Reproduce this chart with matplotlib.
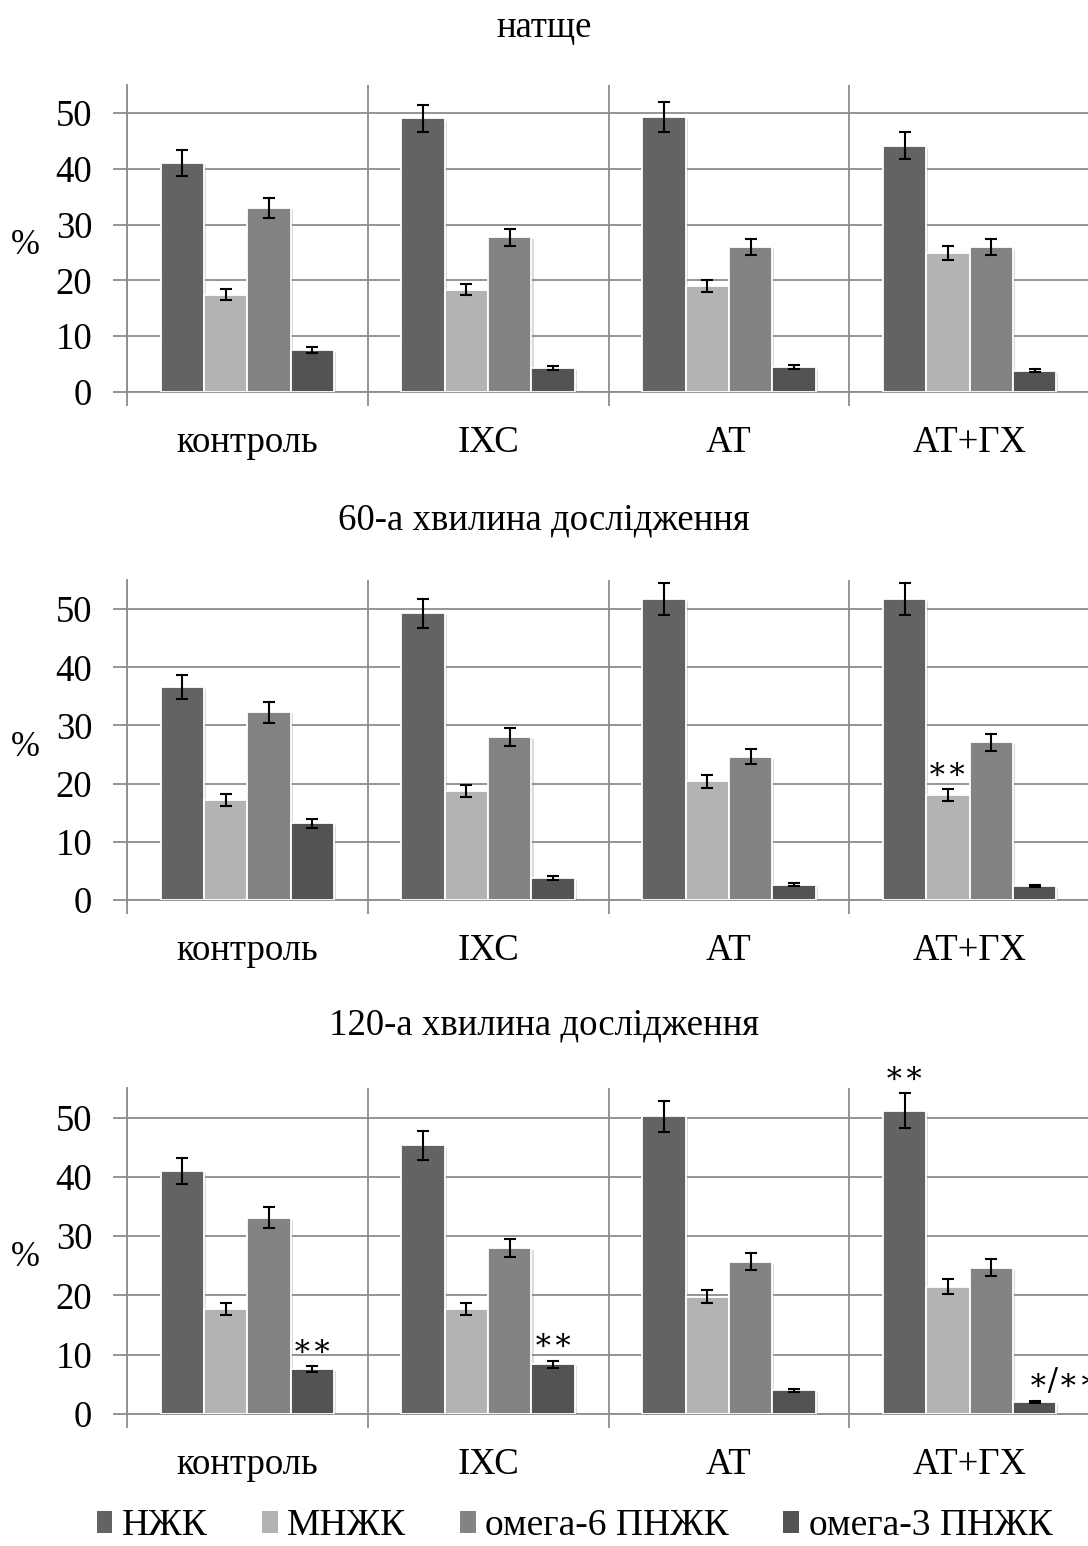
import numpy as np
import matplotlib
matplotlib.use('Agg')
import matplotlib.pyplot as plt
import matplotlib.patheffects as pe
from matplotlib.patches import Patch

plt.rcParams['font.family'] = ['Liberation Serif', 'DejaVu Serif']

groups = ['контроль', 'ІХС', 'АТ', 'АТ+ГХ']
series = ['НЖК', 'МНЖК', 'омега-6 ПНЖК', 'омега-3 ПНЖК']
colors = ['#636363', '#b3b3b3', '#838383', '#535353']
titles = ['натще', '60-а хвилина дослідження', '120-а хвилина дослідження']

# values per series (rows) for each group (columns)
fasting = [[41.0, 49.0, 49.3, 44.1],
           [17.4, 18.3, 19.0, 24.9],
           [33.0, 27.7, 26.0, 26.0],
           [7.5, 4.3, 4.5, 3.8]]
fasting_err = [[2.3, 2.5, 2.7, 2.4],
               [1.0, 1.0, 1.1, 1.3],
               [1.8, 1.5, 1.5, 1.4],
               [0.5, 0.4, 0.35, 0.3]]

min60 = [[36.6, 49.3, 51.7, 51.7],
         [17.2, 18.7, 20.4, 18.0],
         [32.3, 28.0, 24.6, 27.1],
         [13.2, 3.8, 2.6, 2.4]]
min60_err = [[2.0, 2.5, 2.7, 2.7],
             [1.0, 1.0, 1.1, 1.0],
             [1.8, 1.5, 1.3, 1.5],
             [0.8, 0.3, 0.25, 0.2]]

min120 = [[41.0, 45.3, 50.2, 51.2],
          [17.7, 17.7, 19.8, 21.5],
          [33.1, 28.0, 25.7, 24.7],
          [7.6, 8.4, 4.0, 2.0]]
min120_err = [[2.2, 2.4, 2.6, 2.9],
              [1.0, 1.0, 1.1, 1.2],
              [1.8, 1.5, 1.4, 1.4],
              [0.5, 0.6, 0.3, 0.2]]

# significance marks: (series, group, text)
marks60 = [(1, 3, '∗∗')]
marks120 = [(3, 0, '∗∗'), (3, 1, '∗∗'), (0, 3, '∗∗'), (3, 3, '∗/∗∗')]

panels = [
    (titles[0], fasting, fasting_err, [], 392, 85, 28),
    (titles[1], min60, min60_err, marks60, 900, 580, 520),
    (titles[2], min120, min120_err, marks120, 1414, 1088, 1025),
]

W, H = 1088, 1546
fig = plt.figure(figsize=(W / 100, H / 100), dpi=100)
gridc = '#8c8c8c'
x = np.arange(len(groups))
bw = 0.18
fs = 26.5

for title, vals, errs, marks, ybot, ytop, ytitle in panels:
    ax = fig.add_axes([127 / W, 1 - ybot / H, 963 / W, (ybot - ytop) / H])
    for i in range(len(series)):
        pos = x + (i - 1.5) * bw
        bars = ax.bar(pos, vals[i], bw, color=colors[i], edgecolor='white',
                      linewidth=1.3, zorder=3, yerr=errs[i],
                      error_kw=dict(ecolor='black', elinewidth=1.5,
                                    capsize=4.5, capthick=1.5, zorder=4))
        for b in bars:
            b.set_path_effects([pe.SimplePatchShadow(offset=(1.5, -1.5),
                                                     shadow_rgbFace='#888888',
                                                     alpha=0.3),
                                pe.Normal()])
    for si, gi, txt in marks:
        px = x[gi] + (si - 1.5) * bw
        top = vals[si][gi] + errs[si][gi]
        ha = 'left' if txt == '∗/∗∗' else 'center'
        if ha == 'left':
            px -= 0.03
        ax.text(px, top + 0.6, txt, ha=ha, va='bottom', fontsize=22,
                zorder=5, clip_on=False, family=['DejaVu Serif'])

    ax.set_xlim(-0.5, 3.5)
    ax.set_ylim(0, 55)
    ax.set_yticks(range(0, 51, 10))
    ax.set_xticks(x)
    ax.set_xticklabels(groups)
    ax.set_xticks(np.arange(-0.5, 3.6, 1), minor=True)
    ax.tick_params(axis='x', which='major', length=0, pad=24, labelsize=fs)
    ax.tick_params(axis='x', which='minor', length=10, color=gridc, width=1.3)
    ax.tick_params(axis='y', length=10, color=gridc, width=1.3,
                   labelsize=fs, pad=15)
    ax.grid(axis='y', which='major', color=gridc, lw=1.3, zorder=0)
    ax.grid(axis='x', which='minor', color=gridc, lw=1.3, zorder=0)
    ax.set_axisbelow(True)
    for s in ['top', 'right']:
        ax.spines[s].set_visible(False)
    for s in ['left', 'bottom']:
        ax.spines[s].set_color(gridc)
        ax.spines[s].set_linewidth(1.3)

    fig.text(0.5, 1 - ytitle / H, title, ha='center', va='center', fontsize=fs)
    fig.text(25 / W, 1 - (ybot + ytop + 14) / 2 / H, '%', ha='center',
             va='center', fontsize=25)

handles = [Patch(facecolor=c, edgecolor='none') for c in colors]
fig.legend(handles, series, loc='center', bbox_to_anchor=(0.528, 1 - 1526 / H),
           ncol=4, frameon=False, fontsize=27, handlelength=0.42,
           handleheight=0.5, handletextpad=0.25, columnspacing=1.45)

fig.savefig('out.png', dpi=100)
